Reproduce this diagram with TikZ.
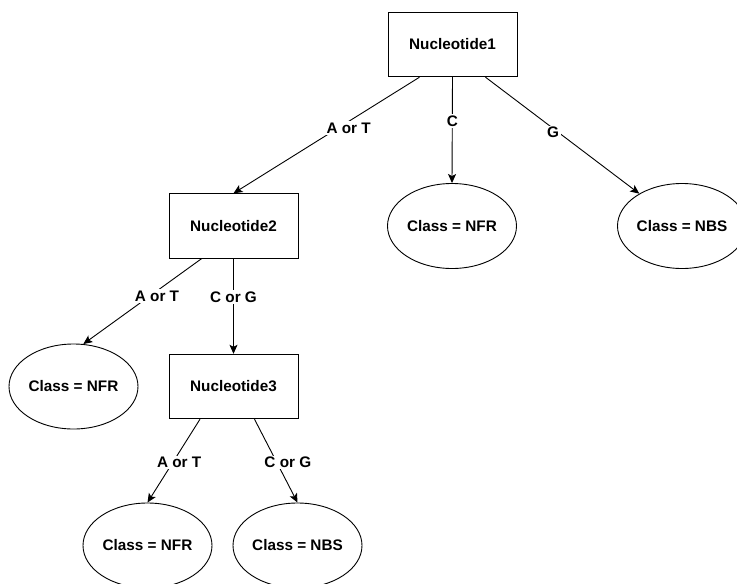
\documentclass[tikz,border=0pt]{standalone}
\usepackage{fontspec}
\setmainfont{Liberation Sans}
\usetikzlibrary{shapes.geometric,arrows.meta}

\begin{document}
\begin{tikzpicture}[x=1pt, y=-1pt]
        % Define styles
        \tikzset{
            feature/.style={rectangle, draw, line width=0.9pt, minimum width=129pt, minimum height=64.5pt, inner sep=0pt, font=\bfseries\fontsize{15.3}{18}\selectfont},
            leaf/.style={ellipse, draw, line width=0.9pt, minimum width=129pt, minimum height=85pt, inner sep=0pt, font=\bfseries\fontsize{15.3}{18}\selectfont},
            branch/.style={fill=white, inner sep=1.5pt, font=\bfseries\fontsize{15.3}{18}\selectfont},
            arrow/.style={->,>={Stealth[length=9pt, width=8pt, inset=2pt]}, line width=0.9pt}
        }
        \useasboundingbox (0,0) rectangle (737,584);

        % Nodes
        \node[feature] (nucleotide_node_1) at (452.5,44.5) {Nucleotide1};
        \node[leaf] (class_node_1) at (452,226) {Class = NFR};
        \node[leaf] (class_node_2) at (682,226) {Class = NBS};
        \node[feature] (nucleotide_node_2) at (233.5,226) {Nucleotide2};
        \node[leaf] (class_node_3) at (73.5,386.5) {Class = NFR};
        \node[feature] (nucleotide_node_3) at (233.5,386.5) {Nucleotide3};
        \node[leaf] (class_node_4) at (147.5,545.5) {Class = NFR};
        \node[leaf] (class_node_5) at (297.5,545.5) {Class = NBS};

        % Arrows
        \draw[arrow] ([xshift=-33pt]nucleotide_node_1.south) -- (nucleotide_node_2.north) node[branch, pos=0.44, xshift=11pt] {A or T};
        \draw[arrow] (nucleotide_node_1.south) -- (class_node_1.north) node[branch, pos=0.415] {C};
        \draw[arrow] ([xshift=33pt]nucleotide_node_1.south) -- (class_node_2) node[branch, pos=0.44, yshift=-4pt] {G};
        \draw[arrow] ([xshift=-32pt]nucleotide_node_2.south) -- (class_node_3.77) node[branch, pos=0.44, xshift=7.5pt] {A or T};
        \draw[arrow] (nucleotide_node_2.south) -- (nucleotide_node_3.north) node[branch, pos=0.4] {C or G};
        \draw[arrow] ([xshift=-33.5pt]nucleotide_node_3.south) -- (class_node_4.north) node[branch, pos=0.52, xshift=6.5pt] {A or T};
        \draw[arrow] ([xshift=21pt]nucleotide_node_3.south) -- (class_node_5.north) node[branch, pos=0.52, xshift=11pt] {C or G};
\end{tikzpicture}
\end{document}
